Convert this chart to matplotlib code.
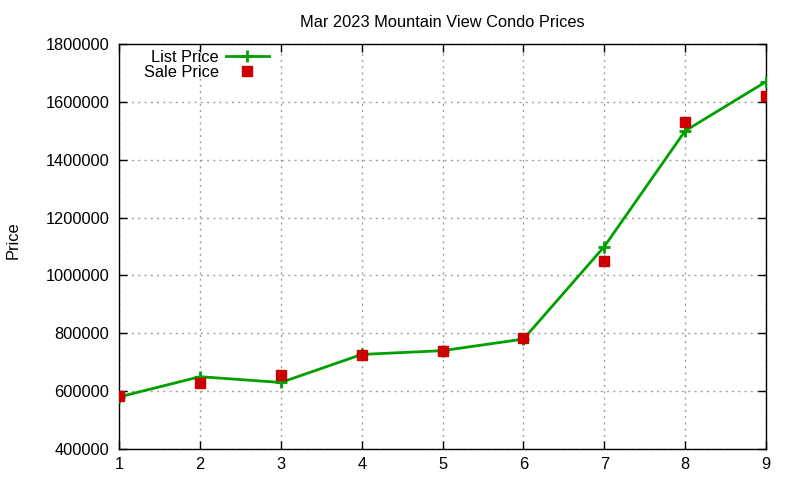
import matplotlib
matplotlib.use("Agg")
import matplotlib.pyplot as plt

plt.rcParams['font.family'] = ['Liberation Sans', 'DejaVu Sans']

# values
months = [1, 2, 3, 4, 5, 6, 7, 8, 9]
list_price = [580000, 650000, 630000, 727000, 740000, 780000, 1100000, 1500000, 1670000]
sale_price = [583000, 628000, 655000, 725000, 740000, 785000, 1050000, 1530000, 1620000]
y_ticks = [400000, 600000, 800000, 1000000, 1200000, 1400000, 1600000, 1800000]

fig = plt.figure(figsize=(8, 4.8), dpi=100)
ax = fig.add_axes([0.149, 0.0646, 0.8085, 0.8435])

ax.plot(months, list_price, color='#00a000', lw=2, marker='+', ms=8, mew=2,
        label='List Price', zorder=3)
ax.plot(months, sale_price, ls='none', color='#cc0000', marker='s', ms=6.5,
        label='Sale Price', zorder=4)

ax.set_xlim(1, 9)
ax.set_ylim(400000, 1800000)
ax.set_xticks(months)
ax.set_yticks(y_ticks)
ax.set_yticklabels([str(v) for v in y_ticks])
ax.tick_params(direction='in', length=6, labelsize=11.8, top=True, right=True,
               width=1, pad=7)
ax.tick_params(axis='x', pad=6)
ax.grid(True, ls=(0, (1.5, 3)), color='#a0a0a0', lw=1)
for s in ax.spines.values():
    s.set_linewidth(1)

ax.set_title('Mar 2023 Mountain View Condo Prices', fontsize=11.8, pad=12)
fig.text(0.016, 0.5, 'Price', rotation=90, va='center', ha='center', fontsize=11.8)

leg = ax.legend(loc='upper left', bbox_to_anchor=(0.02, 1.015), frameon=False,
                markerfirst=False, fontsize=11.8, handlelength=2.6,
                handletextpad=0.45, labelspacing=0.0, borderaxespad=0.3)
for t in leg.get_texts():
    t.set_ha('right')

fig.savefig('out.png', dpi=100)
